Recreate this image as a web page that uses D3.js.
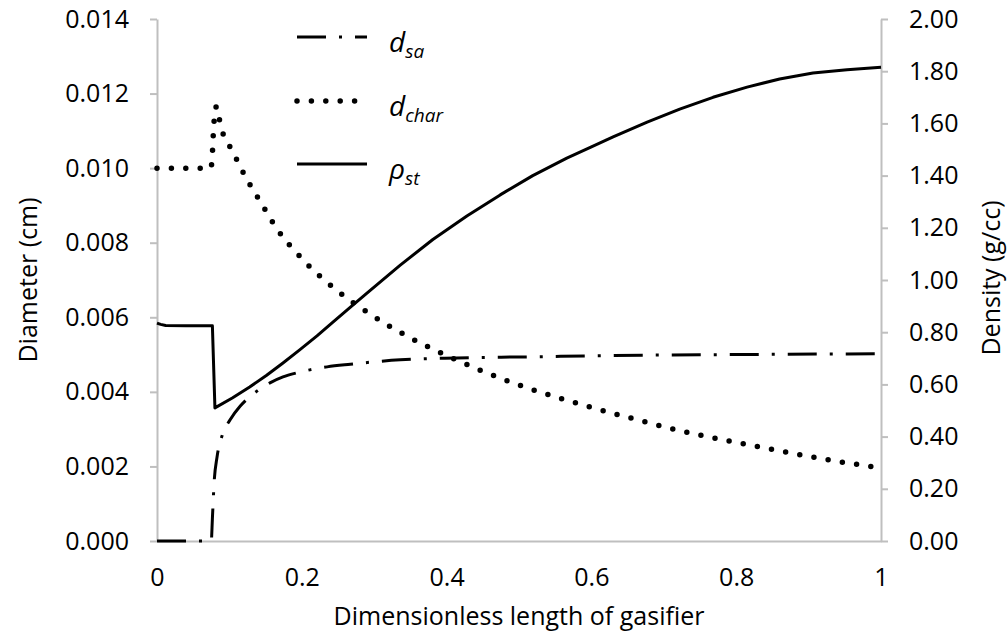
<!DOCTYPE html>
<html>
<head>
<meta charset="utf-8">
<script src="https://cdn.jsdelivr.net/npm/d3@7"></script>
<style>
  html, body { margin: 0; padding: 0; background: #fff; }
  svg { display: block; font-family: "Open Sans", "Noto Sans", sans-serif; }
</style>
</head>
<body>
<svg id="chart" width="1008" height="636"></svg>
<script>
// Dimensionless position along the gasifier and the profiles read at each point
const charX   = [0, 0.035, 0.070, 0.0745, 0.0765, 0.0780, 0.0800, 0.0820, 0.0880, 0.105, 0.123, 0.144, 0.164, 0.2017, 0.246, 0.294, 0.345, 0.398, 0.453, 0.508, 0.565, 0.602, 0.660, 0.718, 0.796, 0.862, 0.920, 1.0];
const charDia = [0.0100, 0.0100, 0.0100, 0.0100, 0.0104, 0.0110, 0.0115, 0.01165, 0.01113, 0.01043, 0.00974, 0.00906, 0.00842, 0.00754, 0.00676, 0.00609, 0.00550, 0.00499, 0.00453, 0.00413, 0.00378, 0.00357, 0.00327, 0.00298, 0.00266, 0.00241, 0.00220, 0.00196];

const ashX   = [0, 0.040, 0.0750, 0.0765, 0.0790, 0.0829, 0.0898, 0.101, 0.115, 0.124, 0.138, 0.156, 0.174, 0.193, 0.211, 0.235, 0.267, 0.336, 0.414, 0.519, 0.612, 0.800, 1.0];
const ashDia = [0, 0, 0, 0.00060, 0.00160, 0.00225, 0.00282, 0.00325, 0.00362, 0.00380, 0.00402, 0.00424, 0.00440, 0.00451, 0.00459, 0.00467, 0.00474, 0.00486, 0.00491, 0.00494, 0.00497, 0.00500, 0.00502];

const solidX   = [0, 0.005, 0.012, 0.040, 0.0765, 0.0800, 0.104, 0.128, 0.151, 0.174, 0.1975, 0.221, 0.243, 0.266, 0.290, 0.336, 0.381, 0.428, 0.474, 0.519, 0.566, 0.600, 0.630, 0.677, 0.722, 0.768, 0.815, 0.860, 0.906, 0.953, 1.0];
const solidRho = [0.835, 0.830, 0.826, 0.825, 0.825, 0.510, 0.548, 0.590, 0.634, 0.682, 0.733, 0.786, 0.839, 0.893, 0.950, 1.057, 1.155, 1.245, 1.326, 1.400, 1.467, 1.510, 1.548, 1.605, 1.655, 1.700, 1.739, 1.770, 1.793, 1.806, 1.815];

// Axis ticks
const xTicks = [0, 0.2, 0.4, 0.6, 0.8, 1];
const yLeftTicks = [0, 0.002, 0.004, 0.006, 0.008, 0.010, 0.012, 0.014];
const yRightTicks = [0, 0.2, 0.4, 0.6, 0.8, 1.0, 1.2, 1.4, 1.6, 1.8, 2.0];

// Legend entries
const legendKeys = ["sa", "char", "st"];
const legendMain = ["d", "d", "\u03c1"];

const svg = d3.select("#chart");
const plotLeft = 157, plotRight = 881, plotTop = 19, plotBottom = 541;

const x = d3.scaleLinear().domain([0, 1]).range([plotLeft, plotRight]);
const yL = d3.scaleLinear().domain([0, 0.014]).range([plotBottom, plotTop]);
const yR = d3.scaleLinear().domain([0, 2]).range([plotBottom, plotTop]);

const axisColor = "#bfbfbf";
const fontSize = 25;

function styleAxis(g) {
  g.selectAll("path.domain").attr("stroke", axisColor).attr("stroke-width", 2);
  g.selectAll(".tick line").attr("stroke", axisColor).attr("stroke-width", 2);
  g.selectAll(".tick text").attr("fill", "#000").attr("font-size", fontSize)
    .attr("font-family", "'Open Sans', 'Noto Sans', sans-serif");
}

// Bottom axis: line only, no tick marks
svg.append("g")
  .attr("transform", `translate(0,${plotBottom})`)
  .call(d3.axisBottom(x).tickValues(xTicks).tickFormat(d3.format("")).tickSize(0).tickSizeOuter(0).tickPadding(27))
  .call(styleAxis);

svg.append("g")
  .attr("transform", `translate(${plotLeft},0)`)
  .call(d3.axisLeft(yL).tickValues(yLeftTicks).tickFormat(d3.format(".3f")).tickSize(7).tickSizeOuter(0).tickPadding(21))
  .call(styleAxis);

svg.append("g")
  .attr("transform", `translate(${plotRight},0)`)
  .call(d3.axisRight(yR).tickValues(yRightTicks).tickFormat(d3.format(".2f")).tickSize(7).tickSizeOuter(0).tickPadding(21))
  .call(styleAxis);

// Axis titles
svg.append("text")
  .attr("x", (plotLeft + plotRight) / 2).attr("y", 625)
  .attr("text-anchor", "middle").attr("font-size", fontSize)
  .text("Dimensionless length of gasifier");

svg.append("text")
  .attr("transform", `translate(37,${(plotTop + plotBottom) / 2}) rotate(-90)`)
  .attr("text-anchor", "middle").attr("font-size", fontSize)
  .text("Diameter (cm)");

svg.append("text")
  .attr("transform", `translate(1000,${(plotTop + plotBottom) / 2 - 2}) rotate(-90)`)
  .attr("text-anchor", "middle").attr("font-size", fontSize)
  .text("Density (g/cc)");

// Line styles for the three series
const styles = {
  sa:   { width: 3,   dash: "29,13,3,13", cap: "butt",  curve: d3.curveMonotoneX },
  char: { width: 5.5, dash: "0,14.4",     cap: "round", curve: d3.curveMonotoneX },
  st:   { width: 3,   dash: null,         cap: "butt",  curve: d3.curveLinear }
};

function drawSeries(xs, ys, yScale, st) {
  const pts = xs.map((v, i) => [v, ys[i]]);
  const line = d3.line()
    .x(d => x(d[0]))
    .y(d => yScale(d[1]))
    .curve(st.curve);
  svg.append("path")
    .datum(pts)
    .attr("d", line)
    .attr("fill", "none")
    .attr("stroke", "#000")
    .attr("stroke-width", st.width)
    .attr("stroke-linecap", st.cap)
    .attr("stroke-linejoin", "round")
    .attr("stroke-dasharray", st.dash);
}

drawSeries(ashX, ashDia, yL, styles.sa);
drawSeries(charX, charDia, yL, styles.char);
drawSeries(solidX, solidRho, yR, styles.st);

// Legend
const legendY = [37, 101, 164];
legendKeys.forEach((k, i) => {
  const st = styles[k];
  const y0 = legendY[i];
  svg.append("line")
    .attr("x1", 297).attr("x2", 367)
    .attr("y1", y0).attr("y2", y0)
    .attr("stroke", "#000")
    .attr("stroke-width", st.width)
    .attr("stroke-linecap", st.cap)
    .attr("stroke-dasharray", st.dash);
  const t = svg.append("text")
    .attr("x", 389).attr("y", y0 + 15)
    .attr("font-size", 28)
    .attr("font-style", "italic");
  t.append("tspan").text(legendMain[i]);
  t.append("tspan").attr("font-size", 19).attr("dy", 6).text(k);
});
</script>
</body>
</html>
